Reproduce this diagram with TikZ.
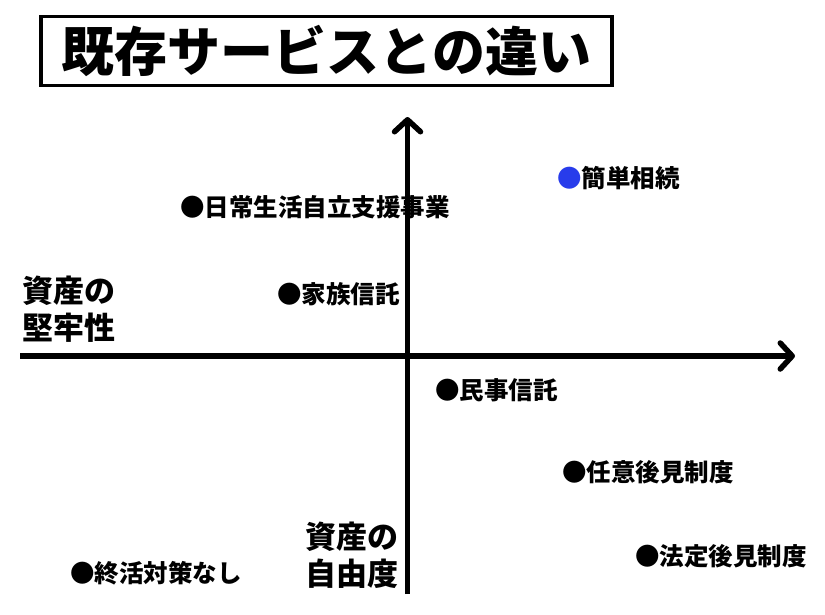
\documentclass[tikz,border=0pt]{standalone}
\usepackage{fontspec}
\setmainfont{Noto Sans CJK JP}
\usetikzlibrary{arrows.meta}
\definecolor{dotblue}{RGB}{40,60,235}
\newcommand*{\PlaceItems}[1]{% #1 = list of x/y/dot color/text/name
  \foreach \x/\y/\dotcolor/\text/\name in {#1} {
    \node [item] (\name) at (\x,\y) {\textcolor{\dotcolor}{●}\text};
    }%
}

\begin{document}
\begin{tikzpicture}[x=1pt,y=-1pt,
    item/.style={anchor=west, inner sep=0pt, font=\fontsize{24.5}{28}\selectfont\bfseries},
    axislabel/.style={anchor=west, inner sep=0pt, align=left, font=\fontsize{31}{37}\selectfont\bfseries},
    axis/.style={line width=5.5pt, -{Straight Barb[length=12pt,width=26pt,line cap=round,line join=round]}}]
    \useasboundingbox (0,0) rectangle (825,614);

    % title
    \node [draw, line width=3.5pt, minimum width=571pt, minimum height=69pt,
      font=\fontsize{53}{60}\selectfont\bfseries] (title) at (326.5,51) {既存サービスとの違い};

    % axes
    \coordinate (west) at (20,356);
    \coordinate (east) at (795,356);
    \coordinate (south) at (407.5,594);
    \coordinate (north) at (407.5,117);
    \draw [axis] (west) -- (east);
    \draw [axis] (south) -- (north);

    \node [axislabel] (robust) at (22,309) {資産の\\堅牢性};
    \node [axislabel] (freedom) at (305,555) {資産の\\自由度};

    \PlaceItems{
        180/207/black/日常生活自立支援事業/selfsupport,
        557/178/dotblue/簡単相続/easyinherit,
        277/294/black/家族信託/familytrust,
        435/390/black/民事信託/civiltrust,
        562/472/black/任意後見制度/voluntaryguard,
        70/573/black/終活対策なし/nopreparation,
        635/556/black/法定後見制度/legalguard
    }
\end{tikzpicture}
\end{document}
